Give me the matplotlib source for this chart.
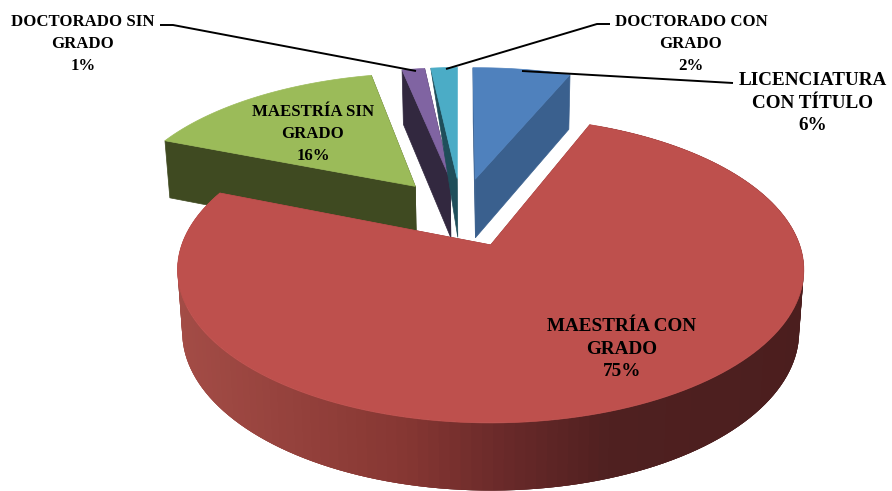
import numpy as np
import matplotlib
matplotlib.use("Agg")
import matplotlib.pyplot as plt
from matplotlib.patches import Polygon

# slices, clockwise from the top of the pie
names = ["LICENCIATURA\nCON TÍTULO", "MAESTRÍA CON\nGRADO", "MAESTRÍA SIN\nGRADO",
         "DOCTORADO SIN\nGRADO", "DOCTORADO CON\nGRADO"]
values = [6.3, 75.0, 15.55, 1.45, 1.7]
top_colors = ["#4f81bd", "#be504d", "#9bbb59", "#8064a2", "#4bacc6"]
wall_colors = ["#3a608e", "#8a3a38", "#3f4a21", "#32283f", "#1f4e5a"]

red_wall_x = [180, 300, 400, 490, 600, 810]
red_wall_r = [163, 147, 133, 106, 79, 75]
red_wall_g = [76, 64, 54, 42, 32, 30]
red_wall_b = [70, 59, 50, 42, 32, 30]

START_ANGLE = -1.0


def project(u, v, lower=False):
    # perspective view of the pie plane
    w = 1 / (1 + 0.163 * v)
    x = 491 + 309 * u * w
    y = 245 - 149 * v * w
    if lower:
        x = 491 + (x - 491) * 0.985
        y = y + 27 + 34 * w
    return np.column_stack([x, y])


def slice_points(t0, t1, n=160):
    t = np.radians(np.linspace(t0, t1, n))
    mid = np.radians((t0 + t1) / 2)
    ou = -0.1 + 0.25 * np.sin(mid)
    ov = 0.23 + 0.25 * np.cos(mid)
    return ou, ov, ou + np.sin(t), ov + np.cos(t)


fig = plt.figure(figsize=(8.92, 4.91), dpi=100)
ax = fig.add_axes([0, 0, 1, 1])
ax.set_xlim(0, 892)
ax.set_ylim(491, 0)
ax.axis("off")

edges = START_ANGLE + np.concatenate([[0], np.cumsum(values)]) * 3.6

for i in [2, 3, 4, 0, 1]:
    ou, ov, us, vs = slice_points(edges[i], edges[i + 1])
    # radial walls
    for k in [0, -1]:
        pu = np.array([ou, us[k]])
        pv = np.array([ov, vs[k]])
        upper = project(pu, pv)
        lower = project(pu, pv, True)
        if i == 4:
            # the thin last slice only shows a sliver of wall
            if k == -1:
                continue
            wall = np.vstack([upper, lower[:1]])
        else:
            wall = np.vstack([upper, lower[::-1]])
        ax.add_patch(Polygon(wall, fc=wall_colors[i], ec=wall_colors[i], lw=0.5))
    # front wall of the big slice, overlapping strips to carry the shading
    if i == 1:
        up = project(us, vs)
        low = project(us, vs, True)
        for j in range(len(us) - 1):
            strip = np.vstack([up[j:j + 4], low[j:j + 4][::-1]])
            mx = strip[:, 0].mean()
            c = (np.interp(mx, red_wall_x, red_wall_r) / 255,
                 np.interp(mx, red_wall_x, red_wall_g) / 255,
                 np.interp(mx, red_wall_x, red_wall_b) / 255)
            ax.add_patch(Polygon(strip, fc=c, ec="none", lw=0))
    top = project(np.r_[ou, us], np.r_[ov, vs])
    ax.add_patch(Polygon(top, fc=top_colors[i], ec=top_colors[i], lw=0.5))

# leader lines
ax.plot([160, 173, 416], [25, 25, 71], color="black", lw=1.4, solid_capstyle="butt")
ax.plot([610, 597, 446], [24, 24, 69], color="black", lw=1.4, solid_capstyle="butt")
ax.plot([733, 522], [83, 71], color="black", lw=1.4, solid_capstyle="butt")

label_pos = [(813, 103), (622, 349), (313, 134), (83, 44), (691, 44)]
label_size = [13.75, 13.8, 12.1, 12.1, 12.1]
label_space = [1.44, 1.44, 1.5, 1.5, 1.5]
for name, val, pos, size, space in zip(names, values, label_pos, label_size, label_space):
    ax.text(pos[0], pos[1], f"{name}\n{val:.0f}%", ha="center", va="center", ma="center",
            family="Liberation Serif", weight="bold", fontsize=size, linespacing=space,
            color="black")

fig.savefig("out.png", dpi=100)
